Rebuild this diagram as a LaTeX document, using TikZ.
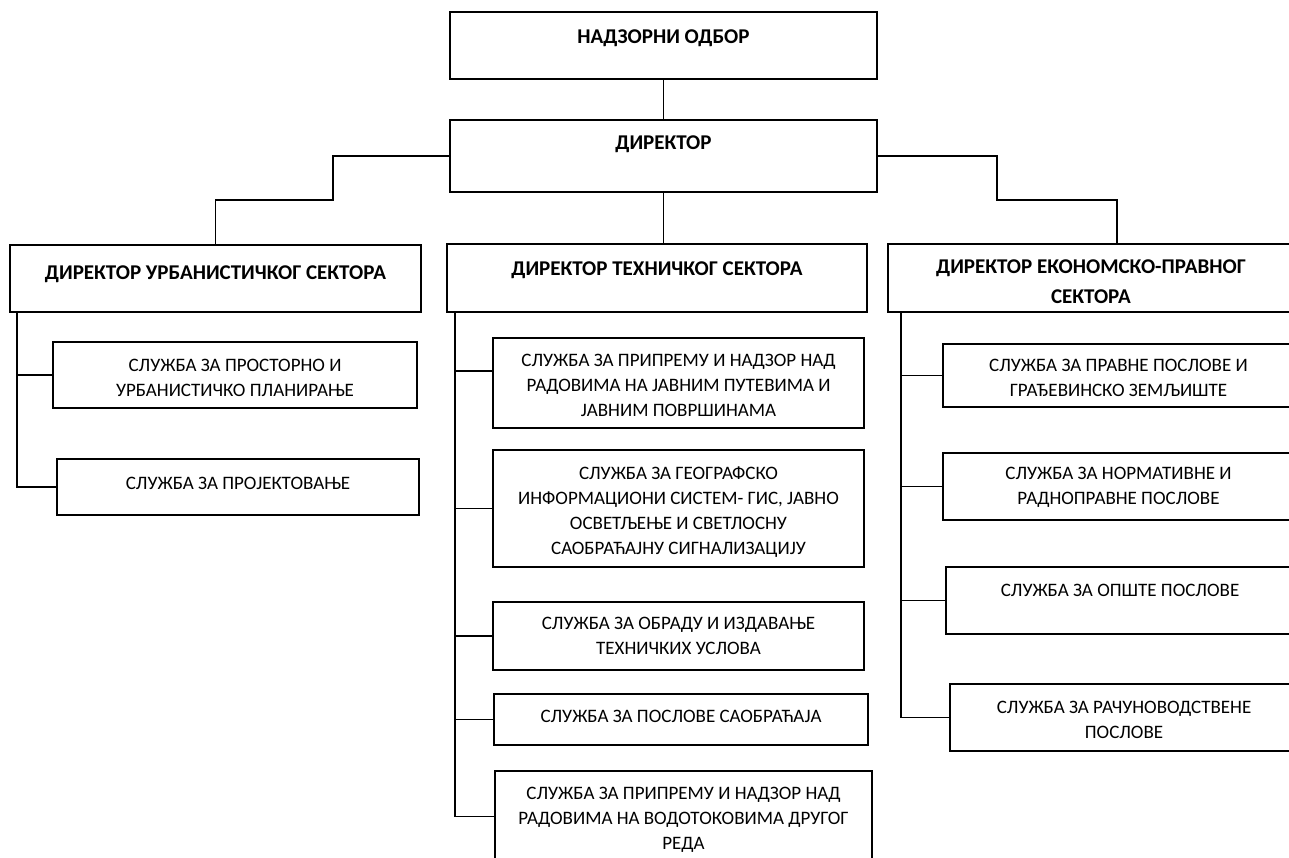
\documentclass[tikz,border=0pt]{standalone}
\usepackage{fontspec}
\setmainfont{Carlito}
\tikzset{
  boxst/.style={draw, line width=1.4pt, inner sep=0pt, outer sep=0pt},
  childbox/.style={boxst, font=\fontsize{19}{25}\selectfont},
  headbox/.style={boxst, font=\fontsize{21}{30}\selectfont\bfseries},
  conn/.style={line width=1.1pt}
}
% style, name, x1, y1, x2, y2, first baseline offset, text
\newcommand\orgbox[8]{%
  \node[#1, minimum width={(#5-#3)*1pt}, minimum height={(#6-#4)*1pt}, anchor=north west] (#2) at (#3,#4)
  {\parbox[c][\dimexpr#6pt-#4pt\relax][t]{\dimexpr#5pt-#3pt-6pt\relax}{\centering\rule{0pt}{#7pt}#8}};}
\begin{document}
\begin{tikzpicture}[x=1pt,y=-1pt]
\fill[white] (0,0) rectangle (1289,858);
\useasboundingbox (0,0) rectangle (1289,858);
\begin{scope}
\clip (0,0) rectangle (1289,858);
% top levels
\orgbox{headbox}{nad}{450}{12}{877}{79}{32}{НАДЗОРНИ ОДБОР}
\orgbox{headbox}{dir}{450}{120}{877}{192}{30}{ДИРЕКТОР}
% sectors
\orgbox{headbox}{urb}{10}{245}{421}{312}{34}{ДИРЕКТОР УРБАНИСТИЧКОГ СЕКТОРА}
\orgbox{headbox}{teh}{447}{244}{867}{312}{31}{ДИРЕКТОР ТЕХНИЧКОГ СЕКТОРА}
\orgbox{headbox}{eko}{888}{244}{1294}{312}{30}{ДИРЕКТОР ЕКОНОМСКО-ПРАВНОГ\\СЕКТОРА}
% urban services
\orgbox{childbox}{u1}{53}{342}{417}{408}{29}{СЛУЖБА ЗА ПРОСТОРНО И\\УРБАНИСТИЧКО ПЛАНИРАЊЕ}
\orgbox{childbox}{u2}{57}{459}{419}{515}{30}{СЛУЖБА ЗА ПРОЈЕКТОВАЊЕ}
% technical services
\orgbox{childbox}{t1}{493}{338}{864}{428}{28}{СЛУЖБА ЗА ПРИПРЕМУ И НАДЗОР НАД\\РАДОВИМА НА ЈАВНИМ ПУТЕВИМА И\\ЈАВНИМ ПОВРШИНАМА}
\orgbox{childbox}{t2}{493}{450}{864}{567}{29}{СЛУЖБА ЗА ГЕОГРАФСКО\\ИНФОРМАЦИОНИ СИСТЕМ- ГИС, ЈАВНО\\ОСВЕТЉЕЊЕ И СВЕТЛОСНУ\\САОБРАЋАЈНУ СИГНАЛИЗАЦИЈУ}
\orgbox{childbox}{t3}{493}{602}{864}{670}{27}{СЛУЖБА ЗА ОБРАДУ И ИЗДАВАЊЕ\\ТЕХНИЧКИХ УСЛОВА}
\orgbox{childbox}{t4}{494}{694}{868}{745}{28}{СЛУЖБА ЗА ПОСЛОВЕ САОБРАЋАЈА}
\orgbox{childbox}{t5}{495}{771}{872}{862}{28}{СЛУЖБА ЗА ПРИПРЕМУ И НАДЗОР НАД\\РАДОВИМА НА ВОДОТОКОВИМА ДРУГОГ\\РЕДА}
% economic-legal services
\orgbox{childbox}{e1}{943}{344}{1294}{407}{27}{СЛУЖБА ЗА ПРАВНЕ ПОСЛОВЕ И\\ГРАЂЕВИНСКО ЗЕМЉИШТЕ}
\orgbox{childbox}{e2}{943}{453}{1294}{520}{26}{СЛУЖБА ЗА НОРМАТИВНЕ И\\РАДНОПРАВНЕ ПОСЛОВЕ}
\orgbox{childbox}{e3}{946}{567}{1294}{634}{29}{СЛУЖБА ЗА ОПШТЕ ПОСЛОВЕ}
\orgbox{childbox}{e4}{950}{684}{1298}{751}{29}{СЛУЖБА ЗА РАЧУНОВОДСТВЕНЕ\\ПОСЛОВЕ}
% connectors, top
\draw[conn] (nad.south) -- (dir.north);
\draw[conn] (dir.south) -- (teh.north -| dir.south);
\coordinate (lk) at (333,200);
\coordinate (rk) at (997,200);
\coordinate (rx) at (1117,0);
\draw[conn] (dir.west) -| (lk) -- (lk -| urb.north) -- (urb.north);
\draw[conn] (dir.east) -| (rk) -- (rk -| rx) -- (rx |- eko.north);
% trunks
\coordinate (ux) at (17,0);
\coordinate (tx) at (455,0);
\coordinate (ex) at (901,0);
\draw[conn] (ux |- urb.south) |- (u2.west);
\draw[conn] (ux |- u1.west) -- (u1.west);
\draw[conn] (tx |- teh.south) |- (t5.west);
\draw[conn] ([yshift=12pt]tx |- t1.west) -- ([yshift=12pt]t1.west);
\draw[conn] (tx |- t2.west) -- (t2.west);
\draw[conn] (tx |- t3.west) -- (t3.west);
\draw[conn] (tx |- t4.west) -- (t4.west);
\draw[conn] (ex |- eko.south) |- (e4.west);
\draw[conn] (ex |- e1.west) -- (e1.west);
\draw[conn] (ex |- e2.west) -- (e2.west);
\draw[conn] (ex |- e3.west) -- (e3.west);
\end{scope}
\end{tikzpicture}
\end{document}
